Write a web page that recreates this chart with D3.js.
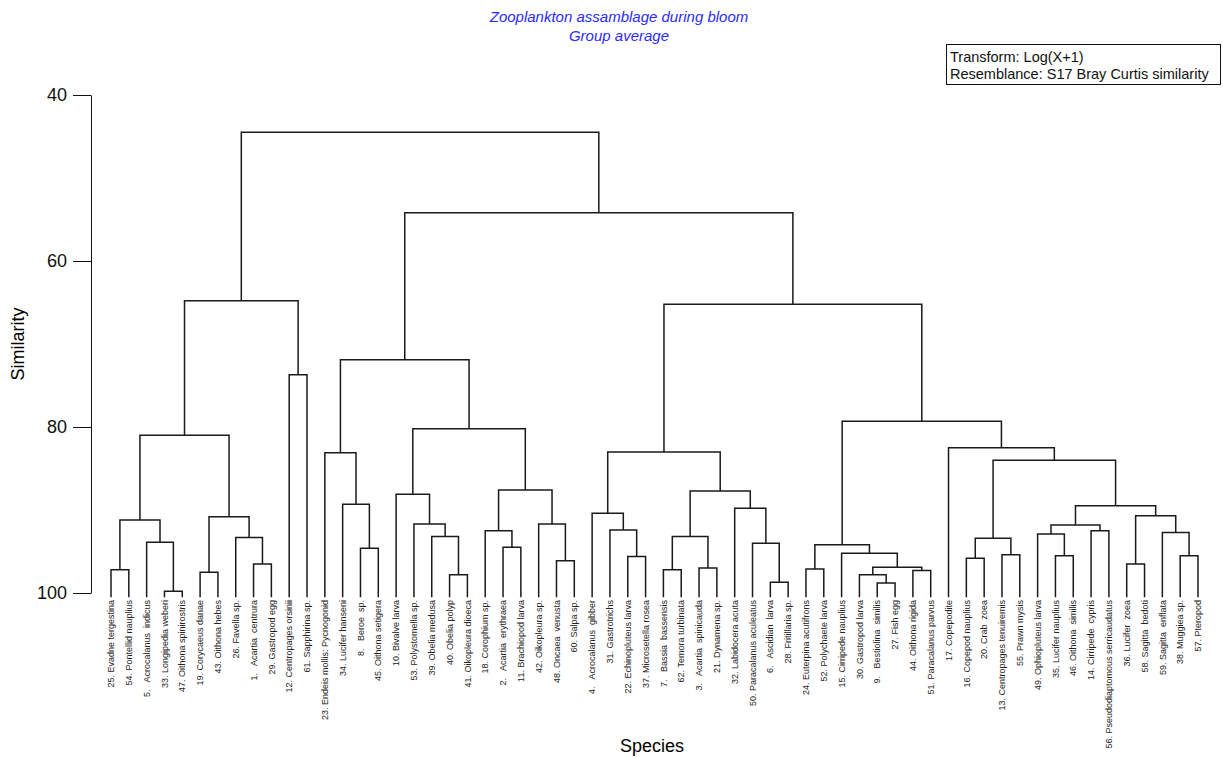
<!DOCTYPE html>
<html>
<head>
  <meta charset="utf-8">
  <title>Zooplankton assamblage during bloom</title>
  <script src="https://d3js.org/d3.v7.min.js"></script>
  <style>
    body { margin: 0; background: #fff; }
    svg text { font-family: "Liberation Sans", Arial, sans-serif; }
    .narrow { font-family: "Liberation Sans Narrow", "Arial Narrow", "Liberation Sans", sans-serif; }
  </style>
</head>
<body>
<script>
  // species names, numbered alphabetically (index = number - 1)
  const speciesNames = [
    "Acartia  centrura", "Acartia  erythraea", "Acartia  spinicauda", "Acrocalanus  gibber",
    "Acrocalanus  indicus", "Ascidian  larva", "Bassia  bassensis", "Beroe  sp.",
    "Bestiolina  similis", "Bivalve larva", "Brachiopod larva", "Centropages orsinii",
    "Centropages tenuiremis", "Cirripede  cypris", "Cirripede nauplius", "Copepod nauplius",
    "Copepodite", "Corophium sp.", "Corycaeus danae", "Crab  zoea",
    "Dynamena sp.", "Echinopluteus larva", "Endeis mollis: Pycnogonid", "Euterpina acutifrons",
    "Evadne tergestina", "Favella sp.", "Fish egg", "Fritillaria sp.",
    "Gastropod egg", "Gastropod larva", "Gastrotrichs", "Labidocera acuta",
    "Longipedia weberi", "Lucifer hanseni", "Lucifer nauplius", "Lucifer  zoea",
    "Microsetella rosea", "Muggiea sp.", "Obelia medusa", "Obelia polyp",
    "Oikopleura dioeca", "Oikopleura sp.", "Oithona hebes", "Oithona rigida",
    "Oithona setigera", "Oithona  similis", "Oithona spinirostris", "Oncaea  venusta",
    "Ophiopluteus larva", "Paracalanus aculeatus", "Paracalanus parvus", "Polychaete larva",
    "Polystomella sp.", "Pontellid nauplius", "Prawn mysis", "Pseudodiaptomous serricaudatus",
    "Pteropod", "Sagitta  bedoti", "Sagitta  enflata", "Salpa sp.",
    "Sapphirina sp.", "Temora turbinata"
  ];

  // leaves left to right (species numbers)
  const leafOrder = [25, 54, 5, 33, 47, 19, 43, 26, 1, 29, 12, 61, 23, 34, 8, 45, 10, 53, 39, 40,
    41, 18, 2, 11, 42, 48, 60, 4, 31, 22, 37, 7, 62, 3, 21, 32, 50, 6, 28, 24,
    52, 15, 30, 9, 27, 44, 51, 17, 16, 20, 13, 55, 49, 35, 46, 14, 56, 36, 58, 59, 38, 57];

  // merges [a, b, similarity]: negative = species number, positive = earlier merge (1-based)
  const merges = [
    [-33, -47, 99.8], [-25, -54, 97.2], [-5, 1, 93.9], [2, 3, 91.2],
    [-19, -43, 97.5], [-1, -29, 96.5], [-26, 6, 93.3], [5, 7, 90.8],
    [4, 8, 81.0], [-12, -61, 73.7], [9, 10, 64.8],
    [-8, -45, 94.6], [-34, 12, 89.3], [-23, 13, 83.1],
    [-40, -41, 97.8], [-39, 15, 93.2], [-53, 16, 91.7], [-10, 17, 88.1],
    [-2, -11, 94.5], [-18, 19, 92.5], [-48, -60, 96.1], [-42, 21, 91.7],
    [20, 22, 87.6], [18, 23, 80.2], [14, 24, 71.9],
    [-22, -37, 95.6], [-31, 26, 92.4], [-4, 27, 90.4],
    [-7, -62, 97.2], [-3, -21, 97.0], [29, 30, 93.2],
    [-6, -28, 98.7], [-50, 32, 94.0], [-32, 33, 89.8], [31, 34, 87.7], [28, 35, 83.0],
    [-24, -52, 97.1], [-9, -27, 98.8], [-30, 38, 97.8], [-44, -51, 97.3],
    [39, 40, 96.9], [-15, 41, 95.2], [37, 42, 94.2],
    [-16, -20, 95.8], [-13, -55, 95.4], [44, 45, 93.4],
    [-35, -46, 95.5], [-49, 47, 92.9], [-14, -56, 92.5], [48, 49, 91.8],
    [-36, -58, 96.5], [-38, -57, 95.5], [-59, 52, 92.7], [51, 53, 90.7],
    [50, 54, 89.5], [46, 55, 84.0], [-17, 56, 82.5], [43, 57, 79.3],
    [36, 58, 65.2], [25, 59, 54.2], [11, 60, 44.5]
  ];

  const simTicks = [40, 60, 80, 100];
  const titleLines = ["Zooplankton assamblage during bloom", "Group average"];
  const noteLines = ["Transform: Log(X+1)", "Resemblance: S17 Bray Curtis similarity"];

  const width = 1223, height = 757;

  let svg = d3.select("body").append("svg")
    .attr("width", width)
    .attr("height", height);

  let x = d3.scalePoint().domain(leafOrder).range([111, 1198]);
  let y = d3.scaleLinear().domain([40, 100]).range([95, 593]);

  // leaf and node positions
  let leafPos = {};
  leafOrder.forEach(n => { leafPos[n] = { x: x(n), y: y(100.5) }; });
  let nodes = [];
  function pos(ref) { return ref < 0 ? leafPos[-ref] : nodes[ref - 1]; }
  merges.forEach(m => {
    let a = pos(m[0]), b = pos(m[1]);
    nodes.push({ x: (a.x + b.x) / 2, y: y(m[2]), a: a, b: b });
  });

  svg.append("g").attr("id", "tree")
    .selectAll("path")
    .data(nodes)
    .join("path")
    .attr("d", d => `M${d.a.x},${d.a.y}V${d.y}H${d.b.x}V${d.b.y}`)
    .attr("fill", "none")
    .attr("stroke", "#1a1a1a")
    .attr("stroke-width", 1.5);

  // leaf labels
  svg.append("g").attr("id", "labels")
    .selectAll("text")
    .data(leafOrder)
    .join("text")
    .attr("class", "narrow")
    .attr("transform", d => `translate(${x(d)},600) rotate(-90)`)
    .attr("dy", "0.35em")
    .attr("text-anchor", "end")
    .style("white-space", "pre")
    .attr("font-size", 9)
    .attr("fill", "#222")
    .text(d => d + (d < 10 ? ".   " : ". ") + speciesNames[d - 1]);

  // y axis
  let yAxis = svg.append("g")
    .attr("transform", "translate(91,0)")
    .call(d3.axisLeft(y).tickValues(simTicks).tickSize(18).tickSizeOuter(0).tickPadding(6));
  yAxis.selectAll("text").attr("font-size", 18).attr("fill", "#111");
  yAxis.selectAll("line, path").attr("stroke", "#111");

  svg.append("text")
    .attr("transform", `translate(24,${(y(40) + y(100)) / 2}) rotate(-90)`)
    .attr("text-anchor", "middle")
    .attr("font-size", 18)
    .text("Similarity");

  svg.append("text")
    .attr("x", 652)
    .attr("y", 752)
    .attr("text-anchor", "middle")
    .attr("font-size", 18)
    .text("Species");

  // title
  svg.append("g").selectAll("text")
    .data(titleLines)
    .join("text")
    .attr("class", "narrow")
    .attr("x", 619)
    .attr("y", (d, i) => 22 + i * 19)
    .attr("text-anchor", "middle")
    .attr("font-size", 15)
    .attr("font-style", "italic")
    .attr("fill", "#2b2bff")
    .text(d => d);

  // note box
  let note = svg.append("g").attr("id", "note");
  note.append("rect")
    .attr("x", 946.5).attr("y", 44.5)
    .attr("width", 274).attr("height", 40)
    .attr("fill", "#fff")
    .attr("stroke", "#111");
  note.selectAll("text")
    .data(noteLines)
    .join("text")
    .attr("class", "narrow")
    .attr("x", 950)
    .attr("y", (d, i) => 62 + i * 17)
    .attr("font-size", 14.5)
    .attr("fill", "#111")
    .text(d => d);
</script>
</body>
</html>
